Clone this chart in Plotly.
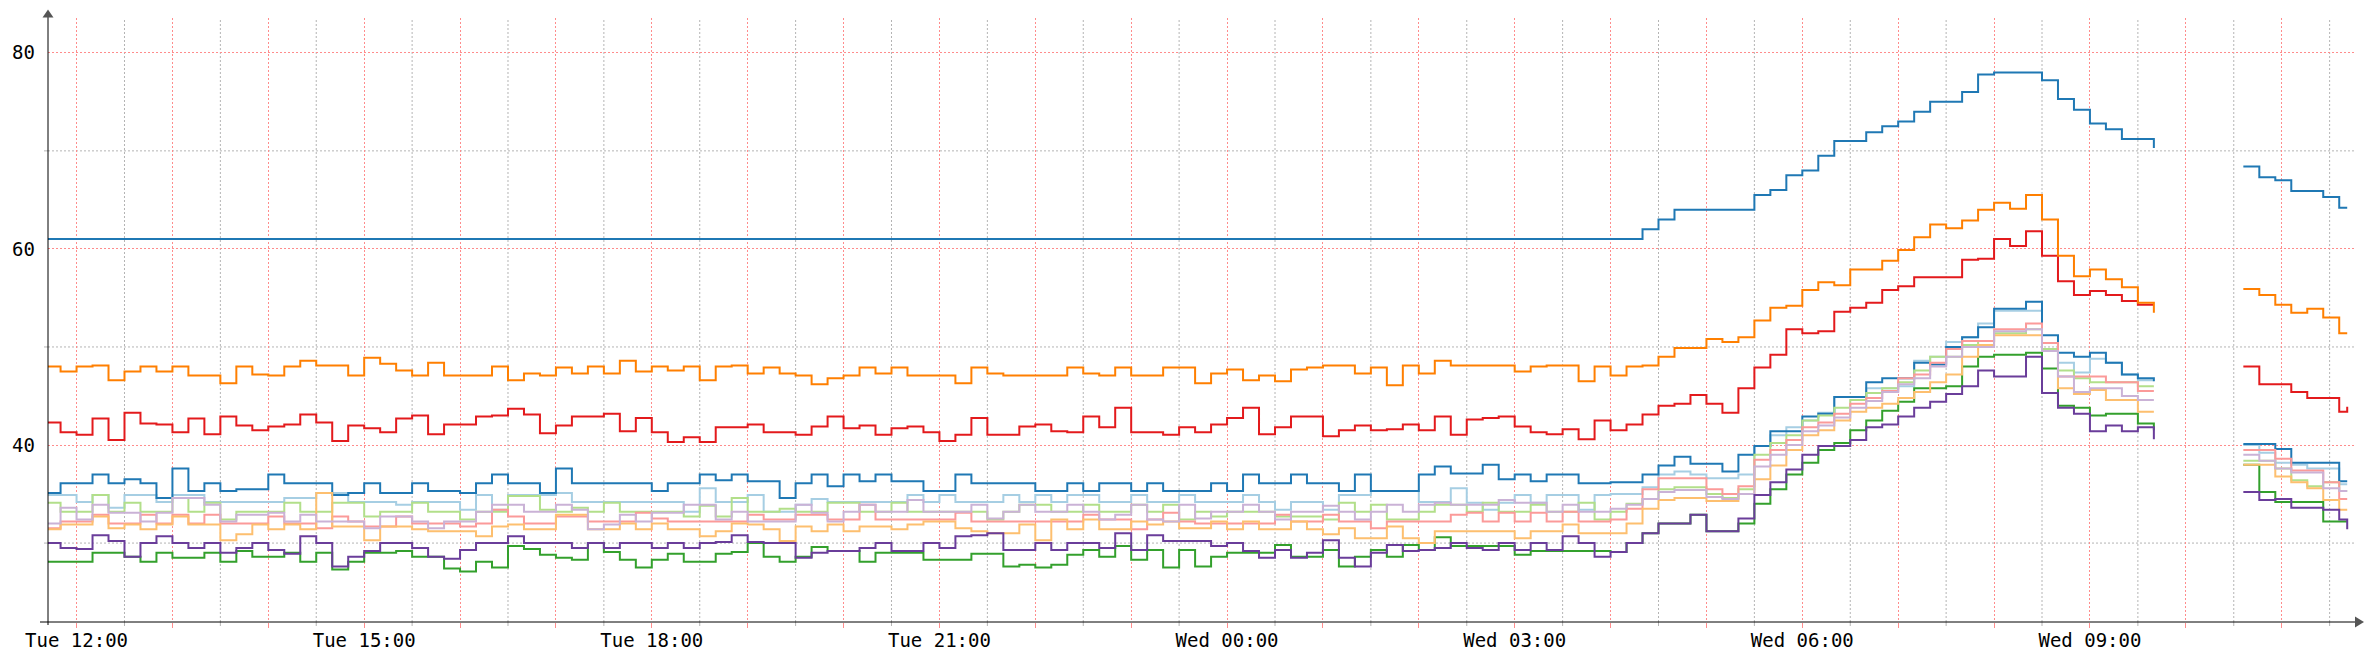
import pandas as pd
import plotly.graph_objects as go

# ---------------------------------------------------------------------------
# Time base: 10-minute samples Tue 11:40 -> Wed 09:40, gap, then Wed 10:36 -> 11:41
# ---------------------------------------------------------------------------
t_day = list(pd.date_range("2024-01-02 11:40", periods=133, freq="10min"))
t_gap = [pd.Timestamp("2024-01-03 10:05")]
t_late = list(pd.date_range("2024-01-03 10:36", periods=7, freq="10min")) + [pd.Timestamp("2024-01-03 11:41")]

# rows: [11:40,11:50] then one row per hour 12h .. 08h, last row 09:00..09:40
top_blue = [61, 61,
    61, 61, 61, 61, 61, 61,
    61, 61, 61, 61, 61, 61,
    61, 61, 61, 61, 61, 61,
    61, 61, 61, 61, 61, 61,
    61, 61, 61, 61, 61, 61,
    61, 61, 61, 61, 61, 61,
    61, 61, 61, 61, 61, 61,
    61, 61, 61, 61, 61, 61,
    61, 61, 61, 61, 61, 61,
    61, 61, 61, 61, 61, 61,
    61, 61, 61, 61, 61, 61,
    61, 61, 61, 61, 61, 61,
    61, 61, 61, 61, 61, 61,
    61, 61, 61, 61, 61, 61,
    61, 61, 61, 61, 61, 61,
    61, 61, 61, 61, 61, 61,
    61, 61, 62, 63, 64, 64,
    64, 64, 64, 65.5, 66, 67.5,
    68, 69.5, 71, 71, 71.9, 72.5,
    73, 74, 75, 75, 76, 77.8,
    78, 78, 78, 77.2, 75.3, 74.2,
    72.8, 72.2, 71.2, 71.2, 70.3]
top_blue_late = [68.4, 67.3, 67.0, 65.9, 65.9, 65.3, 64.2, 64.2]

orange = [48.0, 47.5,
    48.0, 48.1, 46.6, 47.5, 48.0, 47.5,
    48.0, 47.1, 47.1, 46.3, 48.0, 47.2,
    47.1, 48.0, 48.6, 48.1, 48.1, 47.1,
    48.9, 48.3, 47.6, 47.1, 48.4, 47.1,
    47.1, 47.1, 48.0, 46.6, 47.3, 47.1,
    47.9, 47.3, 48.0, 47.3, 48.6, 47.5,
    48.0, 47.6, 48.0, 46.6, 48.0, 48.1,
    47.3, 47.9, 47.3, 47.1, 46.2, 46.8,
    47.1, 47.9, 47.3, 47.9, 47.1, 47.1,
    47.1, 46.3, 47.9, 47.3, 47.1, 47.1,
    47.1, 47.1, 47.9, 47.3, 47.1, 47.9,
    47.1, 47.1, 47.9, 47.9, 46.3, 47.3,
    47.7, 46.6, 47.1, 46.5, 47.7, 47.9,
    48.1, 48.1, 47.3, 47.9, 46.1, 48.1,
    47.3, 48.6, 48.1, 48.1, 48.1, 48.1,
    47.5, 48.0, 48.1, 48.1, 46.5, 48.0,
    47.1, 48.0, 48.1, 49.0, 49.9, 49.9,
    50.8, 50.5, 51.0, 52.7, 54.0, 54.2,
    55.8, 56.6, 56.3, 57.9, 57.9, 58.8,
    59.9, 61.2, 62.5, 62.1, 62.9, 64.0,
    64.7, 64.1, 65.5, 63.0, 59.3, 57.2,
    57.9, 56.9, 56.1, 54.5, 53.5]
orange_late = [55.9, 55.3, 54.3, 53.5, 53.9, 53.0, 51.4, 51.4]

red = [42.3, 41.3,
    41.05, 42.7, 40.5, 43.3, 42.2, 42.1,
    41.3, 42.7, 41.1, 42.9, 42.0, 41.5,
    41.9, 42.1, 43.1, 42.3, 40.4, 42.0,
    41.7, 41.3, 42.7, 43.0, 41.1, 42.1,
    42.1, 42.9, 43.0, 43.7, 43.1, 41.2,
    42.0, 42.9, 42.9, 43.2, 41.4, 42.75,
    41.3, 40.3, 40.8, 40.3, 41.8, 41.8,
    42.1, 41.3, 41.3, 41.05, 41.9, 42.9,
    41.7, 42.0, 41.05, 41.7, 41.9, 41.3,
    40.4, 41.05, 42.75, 41.05, 41.05, 41.9,
    42.1, 41.4, 41.3, 42.9, 41.8, 43.8,
    41.3, 41.3, 41.05, 41.8, 41.3, 42.1,
    42.75, 43.8, 41.1, 41.8, 42.9, 42.9,
    40.9, 41.5, 42.0, 41.5, 41.6, 42.1,
    41.5, 42.9, 41.05, 42.6, 42.75, 42.9,
    41.9, 41.3, 41.1, 41.6, 40.6, 42.5,
    41.5, 42.1, 43.1, 44.0, 44.2, 45.1,
    44.2, 43.3, 45.8, 47.9, 49.2, 51.8,
    51.4, 51.6, 53.6, 54.0, 54.5, 55.8,
    56.2, 57.1, 57.1, 57.1, 58.9, 59.0,
    61.0, 60.3, 61.8, 59.3, 56.7, 55.3,
    55.7, 55.3, 54.7, 54.3, 54.3]
red_late = [48.0, 46.2, 46.2, 45.4, 44.8, 44.8, 43.4, 43.9]

dark_blue = [35.1, 36.1,
    36.1, 37.0, 36.1, 36.5, 36.1, 34.6,
    37.6, 35.3, 36.1, 35.3, 35.5, 35.5,
    37.0, 36.1, 36.1, 36.1, 34.9, 35.1,
    36.1, 35.1, 35.1, 36.1, 35.3, 35.3,
    35.1, 36.1, 37.0, 36.1, 36.1, 35.1,
    37.6, 36.1, 36.1, 36.1, 36.1, 36.1,
    35.3, 36.1, 36.1, 37.0, 36.4, 37.0,
    36.3, 36.3, 34.6, 36.1, 37.0, 35.8,
    37.0, 36.3, 37.0, 36.3, 36.3, 35.3,
    35.3, 37.0, 36.1, 36.1, 36.1, 36.1,
    35.3, 35.3, 36.1, 35.3, 36.1, 36.1,
    35.3, 36.1, 35.3, 35.3, 35.3, 36.1,
    35.3, 37.0, 36.1, 36.1, 37.0, 36.1,
    36.1, 35.3, 37.0, 35.3, 35.3, 35.3,
    37.0, 37.8, 37.1, 37.1, 38.0, 36.5,
    37.0, 36.3, 37.0, 37.0, 36.1, 36.1,
    36.2, 36.2, 37.0, 37.9, 38.8, 38.1,
    38.1, 37.3, 39.0, 39.9, 41.4, 41.4,
    42.9, 43.2, 44.9, 44.9, 46.4, 46.8,
    46.8, 48.4, 48.2, 50.0, 51.0, 52.0,
    53.9, 53.9, 54.6, 51.2, 49.4, 49.0,
    49.4, 48.4, 47.2, 46.8, 46.5]
dark_blue_late = [40.1, 40.1, 39.6, 38.2, 38.2, 38.2, 36.3, 36.3]

light_blue = [34.9, 34.9,
    34.2, 34.9, 33.6, 34.9, 34.9, 34.2,
    34.9, 34.9, 34.2, 34.2, 34.2, 34.2,
    34.2, 34.6, 34.6, 35.1, 35.1, 34.2,
    34.2, 34.2, 33.9, 34.2, 34.2, 34.2,
    33.4, 34.9, 33.4, 34.9, 34.9, 34.9,
    35.1, 34.2, 34.2, 34.2, 34.2, 34.2,
    34.2, 34.2, 33.2, 35.6, 34.2, 34.2,
    34.9, 33.2, 33.2, 33.9, 34.5, 34.2,
    34.2, 34.2, 34.2, 34.2, 34.9, 34.2,
    34.9, 34.2, 34.2, 34.2, 34.9, 34.2,
    34.9, 34.2, 34.9, 34.9, 34.2, 34.2,
    34.9, 34.2, 34.2, 34.9, 34.2, 34.2,
    34.2, 34.9, 34.2, 33.4, 34.2, 34.2,
    33.4, 34.9, 34.9, 35.3, 35.3, 35.3,
    34.2, 34.2, 35.6, 34.1, 33.4, 34.1,
    34.9, 34.1, 34.9, 34.9, 33.4, 34.9,
    35.0, 35.0, 35.7, 37.0, 37.3, 37.0,
    36.6, 36.6, 37.0, 39.9, 41.0, 41.8,
    42.5, 43.3, 44.9, 44.9, 45.8, 45.8,
    46.0, 48.6, 49.0, 50.5, 51.0, 52.4,
    53.7, 53.7, 53.7, 50.4, 48.4, 47.4,
    48.8, 48.4, 47.2, 46.6, 46.6]
light_blue_late = [40.0, 39.2, 38.2, 38.0, 37.6, 37.6, 36.0, 36.0]

light_green = [34.1, 33.2,
    33.2, 34.9, 33.2, 34.1, 33.2, 33.2,
    34.6, 33.2, 34.1, 32.4, 33.2, 33.2,
    33.2, 34.1, 33.2, 33.2, 34.1, 34.1,
    32.7, 33.2, 33.2, 34.1, 33.2, 33.2,
    32.4, 33.2, 33.2, 34.8, 34.8, 33.4,
    33.2, 33.6, 33.2, 34.1, 33.2, 33.2,
    33.2, 33.2, 32.7, 33.8, 32.7, 34.6,
    33.2, 33.2, 33.5, 33.2, 33.2, 34.1,
    34.1, 33.2, 33.2, 34.1, 33.2, 33.2,
    33.2, 33.2, 33.2, 32.4, 33.2, 33.9,
    33.9, 33.2, 33.2, 33.9, 33.2, 33.2,
    33.9, 33.2, 33.9, 32.4, 33.2, 32.7,
    33.2, 33.2, 33.2, 32.7, 32.7, 32.7,
    32.4, 34.1, 33.2, 33.9, 32.4, 32.4,
    33.2, 33.9, 33.9, 33.2, 34.1, 33.2,
    33.2, 33.9, 33.2, 33.2, 34.1, 32.4,
    33.2, 34.0, 34.5, 35.5, 35.7, 35.7,
    35.0, 34.6, 35.5, 39.0, 40.2, 41.0,
    42.5, 43.0, 43.8, 44.6, 45.3, 45.8,
    46.4, 47.6, 49.0, 49.0, 50.2, 50.6,
    51.4, 51.4, 51.8, 49.8, 47.6, 46.8,
    46.4, 46.4, 46.4, 46.0, 46.0]
light_green_late = [38.4, 38.4, 37.6, 36.4, 35.8, 36.2, 35.3, 35.3]

light_purple = [32.0, 33.6,
    32.4, 33.9, 33.1, 33.1, 32.2, 33.1,
    34.6, 34.6, 33.9, 32.2, 32.9, 32.9,
    33.1, 32.2, 32.9, 32.2, 32.2, 32.2,
    31.5, 32.7, 32.7, 32.2, 31.5, 32.2,
    32.2, 33.2, 33.9, 33.9, 33.2, 33.2,
    33.9, 33.4, 31.4, 31.9, 32.9, 32.2,
    33.1, 33.1, 33.9, 33.9, 32.4, 33.2,
    32.2, 32.2, 32.2, 33.9, 33.1, 32.2,
    33.2, 33.9, 33.2, 33.2, 34.4, 33.2,
    33.2, 33.2, 33.9, 32.5, 33.2, 33.9,
    33.2, 33.2, 33.9, 33.2, 32.4, 32.9,
    33.9, 32.4, 32.2, 33.9, 32.5, 33.2,
    33.2, 33.9, 33.2, 32.4, 33.2, 33.2,
    33.8, 33.2, 32.4, 33.2, 33.9, 33.2,
    33.9, 34.1, 33.9, 33.9, 33.9, 34.4,
    34.1, 34.1, 33.2, 33.9, 33.2, 33.2,
    33.5, 33.9, 34.5, 35.2, 35.4, 35.4,
    34.7, 34.5, 35.0, 37.8, 39.0, 40.0,
    41.4, 42.0, 42.8, 43.8, 44.5, 45.4,
    46.2, 46.8, 48.0, 49.0, 50.0, 50.0,
    51.6, 51.6, 51.8, 49.6, 47.0, 45.4,
    45.8, 45.8, 45.0, 44.6, 44.6]
light_purple_late = [39.0, 38.4, 37.6, 37.2, 37.2, 35.6, 35.3, 35.3]

pink = [31.5, 32.2,
    32.2, 32.9, 32.0, 32.0, 32.9, 32.0,
    32.9, 32.0, 32.9, 32.0, 32.0, 32.0,
    32.7, 32.0, 32.0, 31.5, 32.7, 32.2,
    31.7, 31.7, 32.7, 32.0, 32.0, 32.0,
    31.7, 32.0, 33.4, 32.7, 32.0, 32.0,
    32.7, 32.7, 32.2, 32.2, 32.2, 33.1,
    32.5, 32.2, 32.2, 32.2, 32.2, 32.2,
    32.9, 32.4, 32.4, 32.9, 32.9, 32.4,
    32.4, 33.9, 32.4, 32.4, 32.4, 32.4,
    32.4, 33.1, 32.2, 32.2, 32.2, 32.2,
    32.2, 32.2, 32.2, 32.9, 32.4, 32.4,
    31.4, 32.4, 33.1, 32.2, 32.0, 32.0,
    32.0, 32.0, 32.0, 32.9, 32.2, 32.2,
    32.9, 32.2, 32.2, 31.5, 32.2, 32.2,
    32.2, 32.2, 32.9, 33.1, 32.2, 33.1,
    32.2, 33.1, 32.2, 33.2, 32.2, 32.2,
    32.4, 33.5, 35.5, 36.6, 36.6, 36.6,
    35.5, 35.0, 35.8, 38.5, 39.5, 40.5,
    41.8, 42.3, 43.2, 44.2, 44.8, 45.5,
    46.8, 47.2, 48.4, 49.8, 50.6, 50.6,
    51.8, 51.8, 52.4, 50.4, 47.0, 47.0,
    47.0, 46.4, 46.4, 45.5, 45.5]
pink_late = [39.5, 39.5, 38.6, 37.4, 37.4, 36.2, 34.5, 34.5]

light_orange = [31.4, 31.9,
    31.9, 32.7, 31.5, 31.9, 31.4, 31.9,
    32.7, 31.9, 31.9, 30.3, 30.9, 31.9,
    31.4, 31.9, 31.4, 35.1, 31.7, 31.7,
    30.3, 31.7, 31.7, 31.4, 31.2, 31.2,
    31.2, 30.7, 31.7, 31.9, 31.4, 31.4,
    32.9, 32.9, 31.4, 31.4, 32.0, 31.4,
    32.0, 31.4, 31.4, 30.7, 31.2, 32.0,
    31.9, 31.4, 30.2, 31.7, 31.2, 31.9,
    31.2, 31.7, 31.7, 31.4, 31.9, 32.2,
    32.2, 31.5, 31.2, 31.0, 31.0, 31.9,
    30.3, 32.4, 31.4, 32.4, 31.4, 31.4,
    32.2, 31.9, 32.2, 31.5, 31.5, 32.2,
    31.4, 32.2, 31.4, 31.4, 32.2, 31.4,
    30.9, 31.5, 30.5, 30.5, 31.7, 30.5,
    30.0, 31.2, 31.2, 31.2, 31.2, 31.2,
    30.5, 31.2, 31.2, 31.9, 31.0, 31.0,
    31.0, 32.0, 33.5, 34.4, 34.6, 34.6,
    34.3, 34.3, 35.0, 36.5, 37.9, 39.5,
    41.0, 41.5, 42.5, 43.4, 43.8, 44.2,
    44.8, 45.4, 46.4, 47.2, 49.0, 50.2,
    51.2, 51.2, 51.2, 49.6, 45.8, 45.2,
    45.6, 44.6, 44.6, 43.4, 43.4]
light_orange_late = [38.0, 38.0, 36.8, 36.2, 35.6, 34.4, 33.4, 33.4]

purple = [30.0, 29.5,
    29.4, 30.8, 30.2, 28.6, 30.0, 30.7,
    30.0, 29.5, 30.0, 29.0, 29.5, 30.0,
    29.3, 28.9, 30.7, 30.0, 27.6, 28.6,
    29.2, 30.0, 30.0, 29.5, 28.6, 28.4,
    29.3, 30.0, 30.0, 30.7, 30.0, 30.0,
    30.0, 29.5, 30.0, 29.5, 30.0, 30.0,
    29.5, 30.0, 29.5, 30.0, 30.1, 30.8,
    30.1, 30.0, 30.0, 28.5, 29.0, 29.2,
    29.2, 29.5, 30.0, 29.2, 29.2, 30.0,
    29.5, 30.7, 30.8, 31.0, 29.3, 29.3,
    30.0, 29.3, 30.0, 30.0, 29.5, 31.0,
    29.3, 30.8, 30.2, 30.2, 30.2, 29.7,
    30.0, 29.2, 28.5, 29.3, 28.5, 29.0,
    30.3, 28.5, 27.6, 29.0, 29.8, 29.2,
    29.3, 29.5, 30.0, 29.5, 29.3, 30.0,
    29.3, 30.0, 29.3, 30.7, 30.0, 28.6,
    29.1, 30.0, 31.0, 32.0, 32.0, 32.9,
    31.2, 31.2, 32.5, 34.9, 36.2, 37.5,
    39.0, 39.9, 39.9, 40.5, 41.8, 42.1,
    42.9, 43.8, 44.4, 45.2, 46.0, 47.6,
    47.0, 47.0, 49.0, 45.3, 43.8, 43.2,
    41.4, 42.0, 41.4, 41.8, 40.6]
purple_late = [35.2, 34.4, 34.5, 33.6, 33.6, 33.4, 32.4, 31.4]

green = [28.1, 28.1,
    28.1, 29.0, 29.0, 28.6, 28.1, 29.0,
    28.5, 28.5, 29.0, 28.1, 29.2, 28.6,
    28.6, 29.0, 28.1, 29.0, 27.3, 28.1,
    29.0, 29.0, 29.2, 28.6, 28.6, 27.4,
    27.1, 28.1, 27.5, 29.7, 29.4, 28.8,
    28.5, 28.3, 30.0, 29.1, 28.3, 27.5,
    28.3, 28.9, 28.1, 28.1, 28.9, 29.1,
    30.0, 28.6, 28.1, 28.6, 29.6, 29.2,
    29.2, 28.1, 29.0, 29.0, 29.0, 28.3,
    28.3, 28.3, 28.9, 28.9, 27.6, 27.8,
    27.5, 27.8, 28.8, 29.3, 28.6, 29.7,
    28.3, 29.3, 27.5, 29.3, 27.6, 28.6,
    29.0, 29.0, 29.0, 29.8, 28.6, 28.6,
    29.3, 27.6, 28.6, 29.3, 28.6, 29.8,
    29.3, 30.6, 29.7, 29.7, 29.7, 29.7,
    28.8, 29.2, 29.2, 29.2, 29.2, 29.2,
    29.1, 30.0, 31.0, 32.0, 32.0, 32.9,
    31.2, 31.2, 32.0, 34.0, 35.5, 37.0,
    38.2, 39.5, 40.2, 41.5, 42.5, 43.5,
    44.4, 45.8, 45.8, 46.0, 48.0, 49.0,
    49.2, 49.2, 49.4, 47.8, 44.0, 43.8,
    43.0, 43.2, 43.2, 42.2, 41.5]
green_late = [38.0, 35.2, 34.2, 34.2, 34.2, 32.2, 32.2, 32.2]

# axis ticks
x_tick_labels = ["Tue 12:00", "Tue 15:00", "Tue 18:00", "Tue 21:00",
                 "Wed 00:00", "Wed 03:00", "Wed 06:00", "Wed 09:00"]
y_major = [40, 60, 80]
y_minor = [30, 50, 70]

series = [
    ("light blue", "#a6cee3", light_blue, light_blue_late),
    ("dark blue", "#1f78b4", dark_blue, dark_blue_late),
    ("light green", "#b2df8a", light_green, light_green_late),
    ("green", "#33a02c", green, green_late),
    ("pink", "#fb9a99", pink, pink_late),
    ("red", "#e31a1c", red, red_late),
    ("light orange", "#fdbf6f", light_orange, light_orange_late),
    ("orange", "#ff7f00", orange, orange_late),
    ("light purple", "#cab2d6", light_purple, light_purple_late),
    ("purple", "#6a3d9a", purple, purple_late),
    ("top blue", "#1f78b4", top_blue, top_blue_late),
]

xs = t_day + t_gap + t_late
fig = go.Figure()
for name, color, day, late in series:
    fig.add_trace(go.Scatter(
        x=xs, y=list(day) + [None] + list(late), name=name, mode="lines",
        line=dict(color=color, width=2, shape="hv"), connectgaps=False,
        hoverinfo="skip"))

W, H = 2374, 670
L, R, T, B = 45, 20, 18, 48
pw, ph = W - L - R, H - T - B

def px(xp):
    return (xp - L) / pw

def py(yp):
    return (H - B - yp) / ph

RED_GRID = "#ff8c8c"
GRAY_GRID = "#b4b4b4"
DASH = "2px,2px"

hours = list(pd.date_range("2024-01-02 12:00", "2024-01-03 11:00", freq="1h"))
label_map = {}
for lab, ts in zip(x_tick_labels, pd.date_range("2024-01-02 12:00", periods=8, freq="3h")):
    label_map[ts] = lab
hour_text = [label_map.get(h, "") for h in hours]
half_hours = list(pd.date_range("2024-01-02 12:30", "2024-01-03 11:30", freq="1h"))

fig.update_layout(
    width=W, height=H, margin=dict(l=L, r=R, t=T, b=B),
    plot_bgcolor="white", paper_bgcolor="white", showlegend=False,
    font=dict(family="DejaVu Sans Mono", size=19, color="#000000"),
)
fig.update_xaxes(
    type="date", range=["2024-01-02 11:42:08", "2024-01-03 11:45:15"],
    tickmode="array", tickvals=hours, ticktext=hour_text, tickangle=0,
    showgrid=True, gridcolor=RED_GRID, griddash=DASH, gridwidth=1,
    ticks="outside", ticklen=5, tickcolor=RED_GRID, tickwidth=1,
    showline=False, zeroline=False, ticklabelstandoff=-4,
)
fig.update_yaxes(
    range=[21.95, 83.55], tickmode="array", tickvals=y_major,
    ticktext=[str(v) for v in y_major],
    showgrid=True, gridcolor=RED_GRID, griddash=DASH, gridwidth=1,
    ticks="", showline=False, zeroline=False, ticklabelstandoff=12,
)

shapes = []
# minor (gray) grid: half hours and 30/50/70, with short outside ticks
for h in half_hours:
    shapes.append(dict(type="line", xref="x", yref="paper", x0=h, x1=h, y0=0, y1=1,
                       line=dict(color=GRAY_GRID, width=1, dash=DASH), layer="below"))
    shapes.append(dict(type="line", xref="x", yref="paper", x0=h, x1=h, y0=py(626), y1=0,
                       line=dict(color=GRAY_GRID, width=1), layer="below"))
for v in y_minor:
    shapes.append(dict(type="line", xref="paper", yref="y", x0=0, x1=1, y0=v, y1=v,
                       line=dict(color=GRAY_GRID, width=1, dash=DASH), layer="below"))
    shapes.append(dict(type="line", xref="paper", yref="y", x0=px(41), x1=0, y0=v, y1=v,
                       line=dict(color=GRAY_GRID, width=1), layer="below"))

# axis lines and arrow heads (RRD style)
shapes += [
    dict(type="line", xref="paper", yref="paper", x0=px(37), x1=px(2356), y0=0, y1=0,
         line=dict(color="#000000", width=1), layer="above"),
    dict(type="line", xref="paper", yref="paper", x0=0, x1=0, y0=py(625), y1=py(17),
         line=dict(color="#000000", width=1), layer="above"),
    dict(type="path", xref="paper", yref="paper",
         path=f"M {px(45)},{py(9.5)} L {px(39.5)},{py(17.5)} L {px(50.5)},{py(17.5)} Z",
         fillcolor="#555555", line=dict(width=0), layer="above"),
    dict(type="path", xref="paper", yref="paper",
         path=f"M {px(2364)},{py(622)} L {px(2355)},{py(616.5)} L {px(2355)},{py(627.5)} Z",
         fillcolor="#555555", line=dict(width=0), layer="above"),
]
fig.update_layout(shapes=shapes)

fig.write_html("out.html")
